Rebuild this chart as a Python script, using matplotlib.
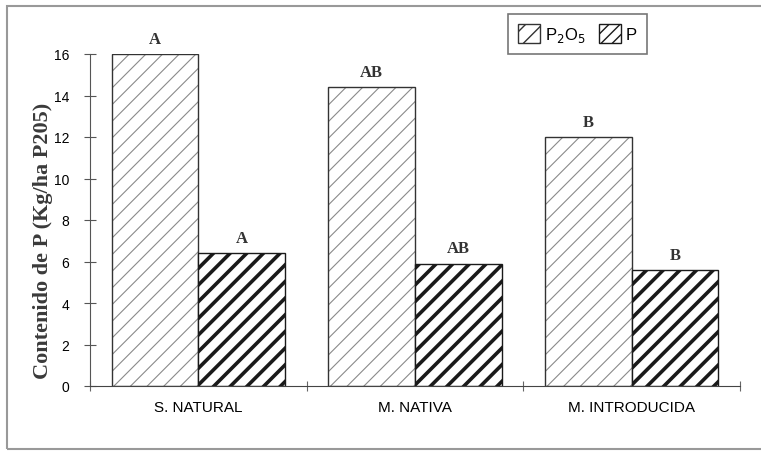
import matplotlib.pyplot as plt
from matplotlib.patches import Patch, Rectangle

categories = ["S. NATURAL", "M. NATIVA", "M. INTRODUCIDA"]
p2o5 = [16.0, 14.4, 12.0]
p = [6.4, 5.9, 5.6]
p2o5_letters = ["A", "AB", "B"]
p_letters = ["A", "AB", "B"]
yticks = [0, 2, 4, 6, 8, 10, 12, 14, 16]

serif = ["Liberation Serif", "DejaVu Serif"]
sans = ["Liberation Sans", "DejaVu Sans"]

fig = plt.figure(figsize=(7.61, 4.52), dpi=100)
ax = fig.add_axes([90 / 761, 1 - 387 / 452, 650 / 761, 332 / 452])

x = list(range(len(categories)))
w = 0.4
xl = [i - w / 2 for i in x]
xr = [i + w / 2 for i in x]

# light hatched bars (P2O5): gray hatch, dark outline drawn separately
plt.rcParams["hatch.linewidth"] = 0.8
ax.bar(xl, p2o5, width=w, color="white", edgecolor="#8a8a8a", hatch="//", linewidth=0)
ax.bar(xl, p2o5, width=w, fill=False, edgecolor="#333333", linewidth=1.0)

# heavy hatched bars (P)
plt.rcParams["hatch.linewidth"] = 2.6
ax.bar(xr, p, width=w, color="white", edgecolor="#1a1a1a", hatch="//", linewidth=0)
ax.bar(xr, p, width=w, fill=False, edgecolor="#1a1a1a", linewidth=1.0)

for xi, v, t in zip(xl, p2o5, p2o5_letters):
    ax.text(xi, v + 0.35, t, ha="center", va="bottom", fontsize=12,
            fontweight="bold", family=serif, color="#333333")
for xi, v, t in zip(xr, p, p_letters):
    ax.text(xi, v + 0.35, t, ha="center", va="bottom", fontsize=12,
            fontweight="bold", family=serif, color="#333333")

ax.set_xlim(-0.5, 2.5)
ax.set_ylim(0, 16)
ax.spines["top"].set_visible(False)
ax.spines["right"].set_visible(False)
ax.spines["left"].set_color("#555555")
ax.spines["bottom"].set_color("#444444")

ax.set_yticks(yticks)
ax.set_yticklabels([str(t) for t in yticks], family=sans, fontsize=10)
ax.tick_params(axis="y", direction="inout", length=8, color="#555555", pad=11)

ax.set_xticks([-0.5, 0.5, 1.5, 2.5])
ax.set_xticklabels([])
ax.tick_params(axis="x", which="major", direction="inout", length=7, color="#666666")
ax.set_xticks(x, minor=True)
ax.set_xticklabels(categories, minor=True, family=sans, fontsize=11)
ax.tick_params(axis="x", which="minor", length=0, pad=10)

ax.set_ylabel("Contenido de P (Kg/ha P205)", family=serif, fontsize=16,
              fontweight="bold", color="#3a3a3a")
ax.yaxis.set_label_coords(-0.057, 0.44)

handles = [
    Patch(facecolor="white", edgecolor="#333333", hatch="//", linewidth=1.0),
    Patch(facecolor="white", edgecolor="#1a1a1a", hatch="///", linewidth=1.0),
]
plt.rcParams["hatch.linewidth"] = 1.0
leg = fig.legend(handles, ["P$_2$O$_5$", "P"], loc="upper left",
                 bbox_to_anchor=(500 / 761, 1 - 7 / 452), ncol=2,
                 frameon=True, fancybox=False, handlelength=1.3, handleheight=1.3,
                 handletextpad=0.3, columnspacing=0.8, borderpad=0.6,
                 prop={"family": sans, "size": 12})
leg.get_frame().set_edgecolor("#555555")
leg.get_frame().set_linewidth(1.2)

# outer frame of the figure
fig.patches.append(Rectangle((7 / 761, 2 / 452), 2, 1 - 9 / 452,
                             transform=fig.transFigure, fill=False,
                             edgecolor="#999999", linewidth=1.5))

fig.savefig("out.png", dpi=100)
